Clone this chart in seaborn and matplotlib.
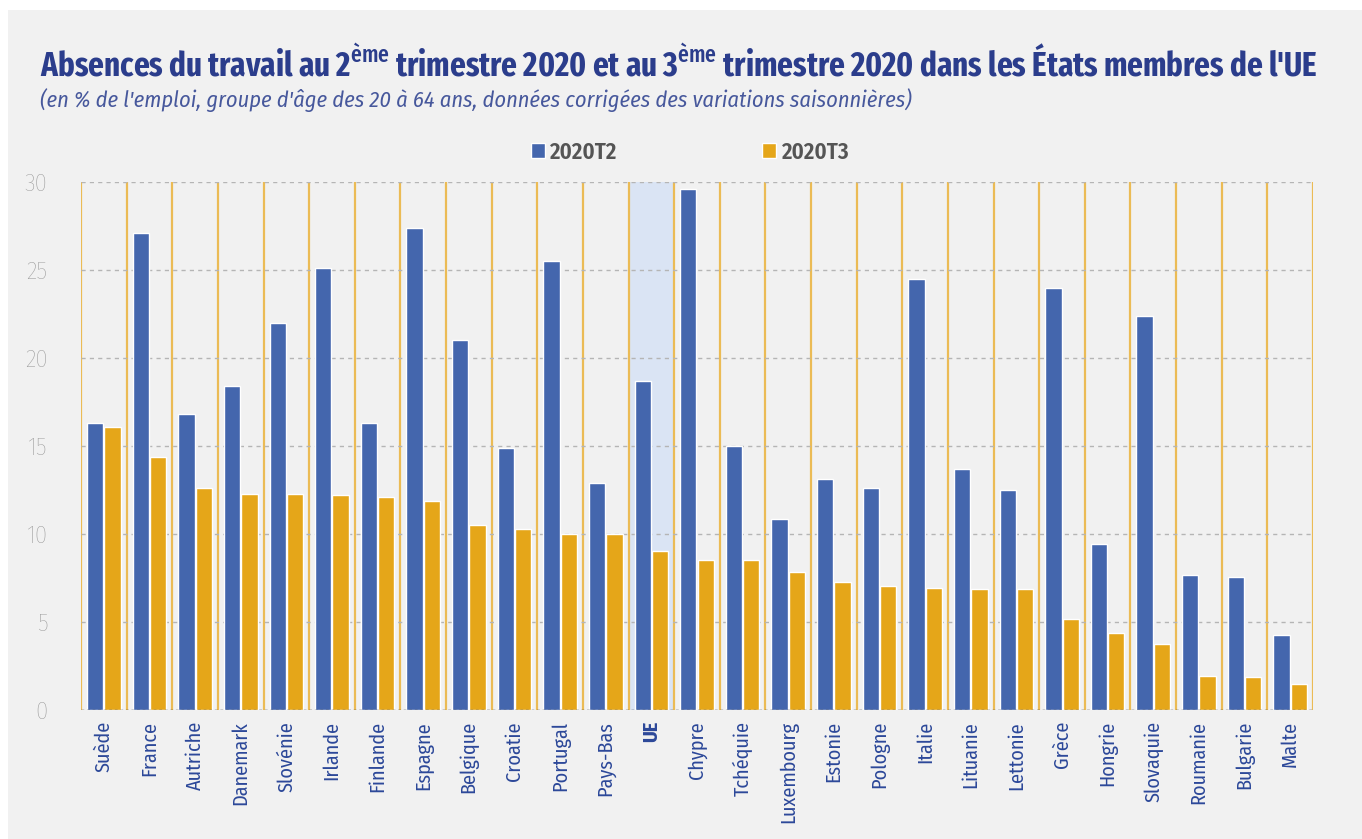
import matplotlib
matplotlib.use('Agg')
import matplotlib.pyplot as plt
from matplotlib.patches import Patch, Rectangle
from matplotlib import font_manager
import seaborn as sns
import pandas as pd

pays = ['Suède', 'France', 'Autriche', 'Danemark', 'Slovénie', 'Irlande', 'Finlande',
        'Espagne', 'Belgique', 'Croatie', 'Portugal', 'Pays-Bas', 'UE', 'Chypre',
        'Tchéquie', 'Luxembourg', 'Estonie', 'Pologne', 'Italie', 'Lituanie', 'Lettonie',
        'Grèce', 'Hongrie', 'Slovaquie', 'Roumanie', 'Bulgarie', 'Malte']
t2 = [16.3, 27.1, 16.8, 18.4, 22.0, 25.1, 16.3, 27.4, 21.0, 14.9, 25.5, 12.9, 18.7, 29.6,
      15.0, 10.85, 13.1, 12.6, 24.5, 13.7, 12.5, 24.0, 9.45, 22.4, 7.65, 7.55, 4.25]
t3 = [16.1, 14.4, 12.6, 12.3, 12.3, 12.2, 12.1, 11.85, 10.5, 10.3, 10.0, 10.0, 9.05, 8.55,
      8.55, 7.85, 7.25, 7.05, 6.95, 6.85, 6.85, 5.15, 4.35, 3.75, 1.95, 1.85, 1.45]
periodes = ['2020T2', '2020T3']

BLUE = '#4466ad'
ORANGE = '#e5a619'
NAVY = '#2b3d8c'
BG = '#f1f1f1'

sns.set_theme(style='white')
installed = {f.name for f in font_manager.fontManager.ttflist}
def pick(*names):
    return next(f for f in list(names) + ['DejaVu Sans'] if f in installed)
cond = pick('Fira Sans Condensed', 'Liberation Sans')
xcond = pick('Fira Sans Extra Condensed', 'Fira Sans Condensed', 'Liberation Sans')
plt.rcParams['font.family'] = [cond, 'DejaVu Sans']
plt.rcParams['mathtext.fontset'] = 'custom'
plt.rcParams['mathtext.rm'] = xcond + ':medium'
plt.rcParams['mathtext.bf'] = xcond + ':bold'

df = pd.DataFrame({
    'pays': pays * 2,
    'valeur': t2 + t3,
    'periode': [periodes[0]] * len(pays) + [periodes[1]] * len(pays),
})

fig = plt.figure(figsize=(13.62, 8.39), dpi=100, facecolor='white')
fig.patches.append(Rectangle((8 / 1362, 0), 1, 1 - 10 / 839, transform=fig.transFigure,
                             facecolor=BG, edgecolor='none', zorder=-10))
ax = fig.add_axes([81 / 1362, 1 - 710 / 839, (1313 - 81) / 1362, (710 - 182) / 839])
ax.set_facecolor(BG)

# UE column highlight + yellow separators + dashed grid
ui = pays.index('UE')
ax.axvspan(ui - 0.5, ui + 0.5, color='#dae4f4', zorder=0, lw=0)
for i in range(len(pays) + 1):
    ax.axvline(i - 0.5, color='#ebbb55', lw=1.6, zorder=1)
for yv in range(5, 31, 5):
    ax.axhline(yv, color='#b5b5b5', lw=1, ls=(0, (3, 3)), zorder=1)
ax.axhline(0, color='#333333', lw=1, ls=(0, (2, 2)), zorder=3)

sns.barplot(data=df, x='pays', y='valeur', hue='periode', palette=[BLUE, ORANGE],
            width=0.76, gap=0.06, ax=ax, legend=False, zorder=2, saturation=1)

ax.set_xlim(-0.5, len(pays) - 0.5)
ax.set_ylim(0, 30)
ax.set_yticks(range(0, 31, 5))
ax.set_xlabel('')
ax.set_ylabel('')
for s in ax.spines.values():
    s.set_visible(False)
ax.tick_params(axis='y', length=0, pad=24, labelsize=18, labelcolor='#999999')
ax.tick_params(axis='x', length=0, pad=8, labelsize=14.5, labelcolor='#2c4899')
ax.set_xticks(range(len(pays)))
ax.set_xticklabels(pays, rotation=90, va='top')
for lab in ax.get_yticklabels():
    lab.set_fontweight('light')
ax.get_xticklabels()[ui].set_fontweight('bold')

title = fig.text(40 / 1362, 1 - 76 / 839,
                 r"Absences du travail au 2$^{\mathrm{ème}}$ trimestre 2020 et au 3$^{\mathrm{ème}}$"
                 r" trimestre 2020 dans les États membres de l'UE",
                 family=[xcond, 'DejaVu Sans'], fontsize=30, fontweight='bold', color=NAVY,
                 va='baseline', ha='left')
sub = fig.text(40 / 1362, 1 - 107 / 839,
               "(en % de l'emploi, groupe d'âge des 20 à 64 ans, données corrigées des variations saisonnières)",
               fontsize=16, style='italic', fontweight='normal', color='#47589c',
               va='baseline', ha='left')

# fit title / subtitle to the widths seen in the reference
r = fig.canvas.get_renderer()
for t, target in [(title, 1278), (sub, 872)]:
    w = t.get_window_extent(r).width
    t.set_fontsize(t.get_fontsize() * target / w)

handles = [Patch(facecolor=BLUE, label=periodes[0]), Patch(facecolor=ORANGE, label=periodes[1])]
fig.legend(handles=handles, loc='center', bbox_to_anchor=(0.5066, 1 - 152 / 839), ncol=2,
           frameon=False, handlelength=0.6, handleheight=0.6, handletextpad=0.25,
           columnspacing=6.3, prop={'weight': 'semibold', 'size': 16.5}, labelcolor='#555555')

fig.savefig('out.png', dpi=100, facecolor='white')
